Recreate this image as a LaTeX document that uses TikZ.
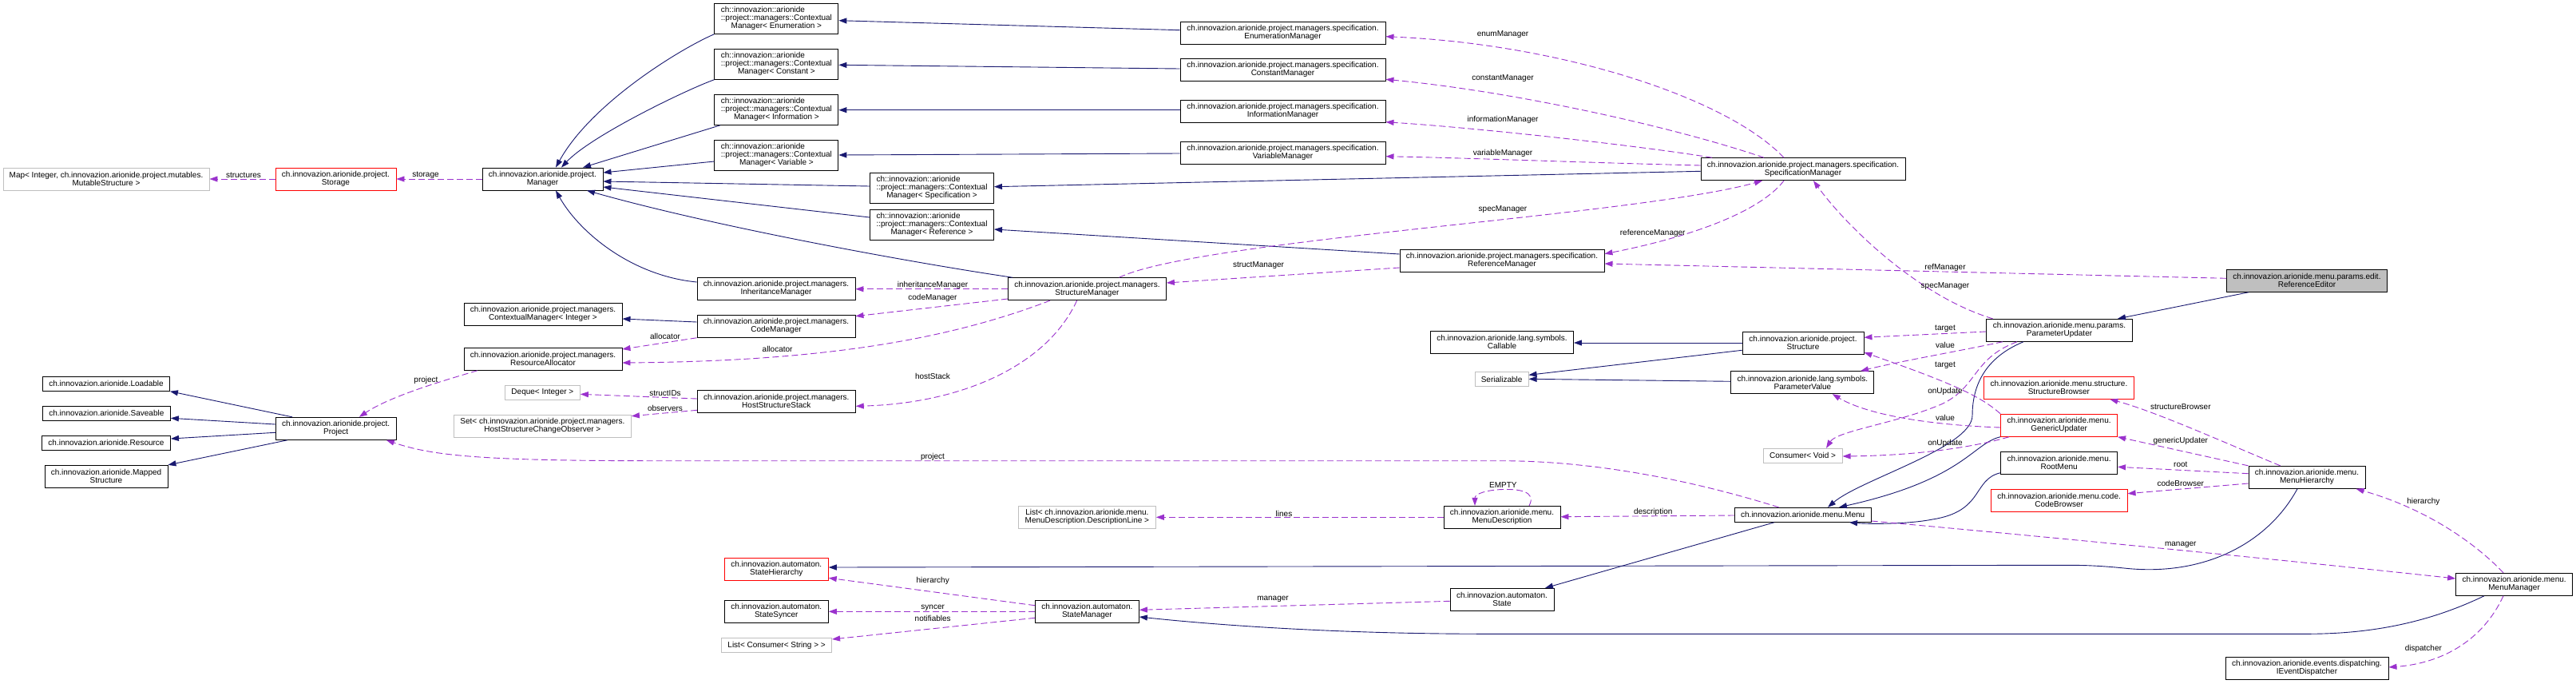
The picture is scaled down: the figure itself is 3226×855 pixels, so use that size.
\documentclass[tikz,border=0pt]{standalone}
\usepackage{fontspec}
\setmainfont{Liberation Sans}
\usetikzlibrary{arrows.meta}
\definecolor{navy}{HTML}{191970}
\definecolor{orchid}{HTML}{9A32CD}
\definecolor{gborder}{HTML}{BFBFBF}
\newcommand\cmtxt[1]{\rlap{ch::innovazion::arionide}\phantom{::project::managers::Contextual}\\::project::managers::Contextual\\Manager< #1 >}
\tikzset{
  cls/.style={draw=black, line width=0.9pt, fill=white, inner sep=0pt, align=center, font=\fontsize{10}{10}\selectfont, text=black},
  ext/.style={cls, draw=gborder},
  redcls/.style={cls, draw=red},
  hl/.style={cls, fill=gborder},
  bw/.style={minimum width=#1pt},
  hone/.style={minimum height=18pt},
  htwo/.style={minimum height=28pt},
  hthree/.style={minimum height=38pt},
  inh/.style={draw=navy, line width=0.9pt, -{Triangle[length=10pt,width=7pt]}},
  use/.style={draw=orchid, line width=0.9pt, dash pattern=on 8pt off 4pt, -{Triangle[length=10pt,width=7pt]}},
  lbl/.style={font=\fontsize{10}{10}\selectfont, inner sep=0pt, text=black}
}
\begin{document}
\begin{tikzpicture}[x=1pt,y=-1pt]
\fill[white] (0,0) rectangle (3226,855);
\useasboundingbox (0,0) rectangle (3226,855);

% ---------- nodes ----------
\node[ext,bw=258,htwo] (map) at (133,224) {Map< Integer, ch.innovazion.arionide.project.mutables.\\MutableStructure >};
\node[redcls,bw=151,htwo] (storage) at (420.5,224) {ch.innovazion.arionide.project.\\Storage};
\node[cls,bw=151,htwo] (manager) at (679.5,224) {ch.innovazion.arionide.project.\\Manager};
\node[cls,bw=198,htwo] (cmint) at (680,393) {ch.innovazion.arionide.project.managers.\\ContextualManager< Integer >};
\node[cls,bw=198,htwo] (resalloc) at (680,449.3) {ch.innovazion.arionide.project.managers.\\ResourceAllocator};
\node[ext,bw=94,hone] (deque) at (679.4,491.3) {Deque< Integer >};
\node[ext,bw=222,htwo] (setobs) at (679.4,533.3) {Set< ch.innovazion.arionide.project.managers.\\HostStructureChangeObserver >};
\node[cls,bw=159,hone] (loadable) at (133,480.3) {ch.innovazion.arionide.Loadable};
\node[cls,bw=160,hone] (saveable) at (133.4,517.3) {ch.innovazion.arionide.Saveable};
\node[cls,bw=161,hone] (resource) at (133,554.3) {ch.innovazion.arionide.Resource};
\node[cls,bw=154,htwo] (mapped) at (133,596.3) {ch.innovazion.arionide.Mapped\\Structure};
\node[cls,bw=151,htwo] (project) at (420.7,536.3) {ch.innovazion.arionide.project.\\Project};

\node[cls,bw=155,hthree] (cmenum) at (972.4,23.3) {\cmtxt{Enumeration}};
\node[cls,bw=155,hthree] (cmconst) at (972.4,80.3) {\cmtxt{Constant}};
\node[cls,bw=155,hthree] (cminfo) at (972.4,137.3) {\cmtxt{Information}};
\node[cls,bw=155,hthree] (cmvar) at (972.4,194.3) {\cmtxt{Variable}};
\node[cls,bw=155,hthree] (cmspec) at (1167,235.3) {\cmtxt{Specification}};
\node[cls,bw=155,hthree] (cmref) at (1167,281.3) {\cmtxt{Reference}};

\node[cls,bw=257,htwo] (enummgr) at (1606.5,41.3) {ch.innovazion.arionide.project.managers.specification.\\EnumerationManager};
\node[cls,bw=257,htwo] (constmgr) at (1606.5,87.3) {ch.innovazion.arionide.project.managers.specification.\\ConstantManager};
\node[cls,bw=257,htwo] (infomgr) at (1606.5,139.3) {ch.innovazion.arionide.project.managers.specification.\\InformationManager};
\node[cls,bw=257,htwo] (varmgr) at (1606.5,191.3) {ch.innovazion.arionide.project.managers.specification.\\VariableManager};
\node[cls,bw=256,htwo] (specmgr) at (2258,211.7) {ch.innovazion.arionide.project.managers.specification.\\SpecificationManager};
\node[cls,bw=256,htwo] (refmgr) at (1881,326.3) {ch.innovazion.arionide.project.managers.specification.\\ReferenceManager};

\node[cls,bw=198,htwo] (inhmgr) at (972,361.3) {ch.innovazion.arionide.project.managers.\\InheritanceManager};
\node[cls,bw=198,htwo] (codemgr) at (972,408.3) {ch.innovazion.arionide.project.managers.\\CodeManager};
\node[cls,bw=198,htwo] (structmgr) at (1361.4,361.7) {ch.innovazion.arionide.project.managers.\\StructureManager};
\node[cls,bw=198,htwo] (hss) at (972.3,502.3) {ch.innovazion.arionide.project.managers.\\HostStructureStack};

\node[ext,bw=172,htwo] (listdesc) at (1361.4,647.3) {List< ch.innovazion.arionide.menu.\\MenuDescription.DescriptionLine >};
\node[redcls,bw=130,htwo] (statehier) at (972.3,712.3) {ch.innovazion.automaton.\\StateHierarchy};
\node[cls,bw=130,htwo] (statesync) at (972.3,765.3) {ch.innovazion.automaton.\\StateSyncer};
\node[ext,bw=138,hone] (listcons) at (972.6,807.7) {List< Consumer< String > >};
\node[cls,bw=130,htwo] (statemgr) at (1361.4,765.3) {ch.innovazion.automaton.\\StateManager};

\node[cls,bw=179,htwo] (callable) at (1881,428.3) {ch.innovazion.arionide.lang.symbols.\\Callable};
\node[cls,bw=152,htwo] (structure) at (2258,429.3) {ch.innovazion.arionide.project.\\Structure};
\node[ext,bw=67,hone] (serializable) at (1880.6,474.7) {Serializable};
\node[cls,bw=179,htwo] (paramval) at (2257.4,478.7) {ch.innovazion.arionide.lang.symbols.\\ParameterValue};
\node[ext,bw=99,hone] (consvoid) at (2257.6,570.3) {Consumer< Void >};
\node[cls,bw=146,htwo] (menudesc) at (1881,647.3) {ch.innovazion.arionide.menu.\\MenuDescription};
\node[cls,bw=171,hone] (menu) at (2257.7,644.3) {ch.innovazion.arionide.menu.Menu};
\node[cls,bw=130,htwo] (state) at (1881,750.3) {ch.innovazion.automaton.\\State};

\node[hl,bw=201,htwo] (refeditor) at (2889,351.3) {ch.innovazion.arionide.menu.params.edit.\\ReferenceEditor};
\node[cls,bw=183,htwo] (paramupd) at (2579,413.3) {ch.innovazion.arionide.menu.params.\\ParameterUpdater};
\node[redcls,bw=188,htwo] (structbrowser) at (2578.4,485.3) {ch.innovazion.arionide.menu.structure.\\StructureBrowser};
\node[redcls,bw=146,htwo] (genupd) at (2578.6,532.3) {ch.innovazion.arionide.menu.\\GenericUpdater};
\node[cls,bw=146,htwo] (rootmenu) at (2578.6,579.3) {ch.innovazion.arionide.menu.\\RootMenu};
\node[redcls,bw=171,htwo] (codebrowser) at (2578.6,626.3) {ch.innovazion.arionide.menu.code.\\CodeBrowser};
\node[cls,bw=146,htwo] (menuhier) at (2889,597.3) {ch.innovazion.arionide.menu.\\MenuHierarchy};
\node[cls,bw=146,htwo] (menumgr) at (3148.6,731.3) {ch.innovazion.arionide.menu.\\MenuManager};
\node[cls,bw=204,htwo] (dispatcher) at (2889,836.3) {ch.innovazion.arionide.events.dispatching.\\IEventDispatcher};

% ---------- inheritance ----------
\draw[inh] (cmenum.south west) .. controls (850,62) and (740,130) .. (manager.north -| 696,0);
\draw[inh] (cmconst.south west) .. controls (860,112) and (740,170) .. (manager.north -| 703,0);
\draw[inh] (cminfo.south -| 902,0) -- (manager.north -| 730,0);
\draw[inh] (cmvar.west |- 0,202) -- (manager.east |- 0,216);
\draw[inh] (cmspec.west |- 0,233) -- (manager.east |- 0,227);
\draw[inh] (cmref.west |- 0,272) -- (manager.east |- 0,234);
\draw[inh] (structmgr.north -| 1268,0) .. controls (1150,330) and (900,285) .. (manager.south -| 735,0);
\draw[inh] (inhmgr.west |- 0,353) .. controls (790,345) and (725,290) .. (manager.south -| 696,0);
\draw[inh] (codemgr.west |- 0,403) -- (cmint.east |- 0,399);
\draw[inh] (enummgr.west |- 0,37.7) -- (cmenum.east |- 0,25.7);
\draw[inh] (constmgr.west |- 0,86) -- (cmconst.east |- 0,81.3);
\draw[inh] (infomgr.west |- 0,137.7) -- (cminfo.east |- 0,137.7);
\draw[inh] (varmgr.west |- 0,192) -- (cmvar.east |- 0,194);
\draw[inh] (specmgr.west |- 0,214.3) -- (cmspec.east |- 0,233.7);
\draw[inh] (refmgr.west |- 0,318) -- (cmref.east |- 0,287);
\draw[inh] (project.north -| 366,0) -- (loadable.south east);
\draw[inh] (project.west |- 0,531) -- (saveable.east |- 0,523.3);
\draw[inh] (project.west |- 0,541.3) -- (resource.east |- 0,549);
\draw[inh] (project.south -| 360,0) -- (mapped.north east);
\draw[inh] (structure.west |- 0,429) -- (callable.east |- 0,429);
\draw[inh] (structure.west |- 0,438.3) -- (serializable.east |- 0,469.3);
\draw[inh] (paramval.west |- 0,477.3) -- (serializable.east |- 0,474.3);
\draw[inh] (refeditor.south -| 2816,0) -- (paramupd.north -| 2652,0);
\draw[inh] (menu.south -| 2222,0) -- (state.north -| 1935,0);
\draw[inh] (paramupd.south -| 2534,0) .. controls (2480,450) and (2470,490) .. (2470,520) .. controls (2470,560) and (2330,600) .. (menu.north -| 2289,0);
\draw[inh] (genupd.west |- 0,546.7) .. controls (2470,555) and (2460,600) .. (menu.north -| 2303,0);
\draw[inh] (rootmenu.west |- 0,591.7) .. controls (2470,600) and (2485,640) .. (2420,650) .. controls (2390,656) and (2340,656) .. (menu.south -| 2316,0);
\draw[inh] (menuhier.south -| 2877,0) .. controls (2840,680) and (2760,722) .. (2660,711) .. controls (2620,707) and (2600,707.3) .. (2579,707.3) -- (statehier.east |- 0,710);
\draw[inh] (menumgr.south -| 3111,0) .. controls (3050,775) and (2980,793.3) .. (2890,793.3) -- (1860,793.3) .. controls (1700,793.3) and (1550,785) .. (statemgr.east |- 0,772);

% ---------- usage ----------
\draw[use] (storage.west) -- (map.east);
\draw[use] (manager.west) -- (storage.east);
\draw[use] (specmgr.north -| 2234,0) .. controls (2160,120) and (1950,55) .. (enummgr.east |- 0,45.7);
\draw[use] (specmgr.north -| 2209,0) .. controls (2100,160) and (1900,115) .. (constmgr.east |- 0,99.3);
\draw[use] (specmgr.north -| 2144,0) .. controls (2050,182) and (1850,160) .. (infomgr.east |- 0,152.7);
\draw[use] (specmgr.west |- 0,207) .. controls (2000,204) and (1850,198) .. (varmgr.east |- 0,195.7);
\draw[use] (structmgr.north -| 1401.5,0) .. controls (1500,300) and (2050,270) .. (specmgr.south -| 2207,0);
\draw[use] (specmgr.south -| 2234,0) .. controls (2200,270) and (2100,300) .. (refmgr.east |- 0,317.7);
\draw[use] (refeditor.west |- 0,348.3) -- (refmgr.east |- 0,330);
\draw[use] (paramupd.north -| 2495.6,0) .. controls (2400,370) and (2310,280) .. (specmgr.south -| 2271,0);
\draw[use] (structmgr.west |- 0,361.7) -- (inhmgr.east |- 0,361.7);
\draw[use] (structmgr.west |- 0,374) -- (codemgr.east |- 0,395.7);
\draw[use] (structmgr.south -| 1315,0) .. controls (1200,420) and (1050,452) .. (resalloc.east |- 0,454);
\draw[use] (codemgr.south west) -- (resalloc.east |- 0,437);
\draw[use] (structmgr.south -| 1348.6,0) .. controls (1310,460) and (1200,505) .. (hss.east |- 0,508.3);
\draw[use] (refmgr.west |- 0,335) -- (structmgr.east |- 0,354);
\draw[use] (hss.west |- 0,499) -- (deque.east |- 0,493.3);
\draw[use] (hss.west |- 0,513.3) -- (setobs.east |- 0,520.7);
\draw[use] (resalloc.south -| 597.8,0) .. controls (560,475) and (490,495) .. (project.north -| 449.8,0);
\draw[use] (menu.north -| 2227.6,0) .. controls (2100,595) and (1980,576.7) .. (1880,576.7) -- (820,576.7) .. controls (600,576.7) and (540,570) .. (project.south -| 483.8,0);
\draw[use] (menu.west |- 0,645) -- (menudesc.east |- 0,646.7);
\draw[use] (menudesc.west) -- (listdesc.east);
\draw[use] (menudesc.north -| 1915,0) .. controls (1925,614) and (1900,612) .. (1882,612.5) .. controls (1862,613) and (1847,618) .. (menudesc.north -| 1847,0);
\draw[use] (paramupd.west |- 0,415) -- (structure.east |- 0,422.3);
\draw[use] (paramupd.south -| 2508,0) .. controls (2450,440) and (2380,452) .. (paramval.north -| 2330,0);
\draw[use] (genupd.north west) .. controls (2480,495) and (2440,478) .. (structure.east |- 0,441);
\draw[use] (paramupd.south -| 2526,0) .. controls (2466,450) and (2478,490) .. (2421,510) .. controls (2370,530) and (2300,540) .. (consvoid.north -| 2287,0);
\draw[use] (genupd.west |- 0,535) .. controls (2420,532) and (2340,520) .. (paramval.south -| 2294.7,0);
\draw[use] (genupd.south -| 2516,0) .. controls (2470,560) and (2400,570) .. (consvoid.east |- 0,571);
\draw[use] (menuhier.north -| 2855.7,0) .. controls (2800,560) and (2700,515) .. (structbrowser.south -| 2642.3,0);
\draw[use] (menuhier.north west) -- (genupd.south east);
\draw[use] (menuhier.west |- 0,592.7) -- (rootmenu.east |- 0,584.3);
\draw[use] (menuhier.west |- 0,605) -- (codebrowser.east |- 0,617.7);
\draw[use] (menumgr.north -| 3135,0) .. controls (3110,690) and (3050,640) .. (menuhier.south -| 2950.5,0);
\draw[use] (menumgr.south -| 3135,0) .. controls (3110,800) and (3060,830) .. (dispatcher.east |- 0,835);
\draw[use] (menu.east |- 0,652) .. controls (2600,675) and (2900,705) .. (menumgr.west |- 0,724);
\draw[use] (statemgr.west |- 0,757.7) -- (statehier.east |- 0,723.3);
\draw[use] (statemgr.west) -- (statesync.east);
\draw[use] (statemgr.west |- 0,773.3) -- (listcons.east |- 0,800);
\draw[use] (state.west |- 0,752.3) -- (statemgr.east |- 0,763.3);

% ---------- labels ----------
\node[lbl] (l1) at (305,219) {structures};
\node[lbl] (l2) at (533,219) {storage};
\node[lbl] (l3) at (1882,42.7) {enumManager};
\node[lbl] (l4) at (1882,97.7) {constantManager};
\node[lbl] (l5) at (1882,149.7) {informationManager};
\node[lbl] (l6) at (1882,191.7) {variableManager};
\node[lbl] (l7) at (1882,261.7) {specManager};
\node[lbl] (l8) at (2069.7,291.7) {referenceManager};
\node[lbl] (l9) at (2436,335.3) {refManager};
\node[lbl] (l10) at (2436,357.7) {specManager};
\node[lbl] (l11) at (1576,332) {structManager};
\node[lbl] (l12) at (1168,356.7) {inheritanceManager};
\node[lbl] (l13) at (1168,372.7) {codeManager};
\node[lbl] (l14) at (833,420.7) {allocator};
\node[lbl] (l15) at (973.6,436.7) {allocator};
\node[lbl] (l16) at (1168,470.7) {hostStack};
\node[lbl] (l17) at (833,491.7) {structIDs};
\node[lbl] (l18) at (833,510.7) {observers};
\node[lbl] (l19) at (533.5,475.7) {project};
\node[lbl] (l20) at (1168,571.7) {project};
\node[lbl] (l21) at (1608,642.7) {lines};
\node[lbl] (l22) at (1882.4,607.5) {EMPTY};
\node[lbl] (l23) at (2070.2,640.7) {description};
\node[lbl] (l24) at (2436,411.7) {target};
\node[lbl] (l25) at (2436,431.7) {value};
\node[lbl] (l26) at (2436,457.7) {target};
\node[lbl] (l27) at (2436,490) {onUpdate};
\node[lbl] (l28) at (2436,522.7) {value};
\node[lbl] (l29) at (2436,555) {onUpdate};
\node[lbl] (l30) at (2730.8,509.3) {structureBrowser};
\node[lbl] (l31) at (2730.8,552.3) {genericUpdater};
\node[lbl] (l32) at (2730.8,581.7) {root};
\node[lbl] (l33) at (2730.8,604.7) {codeBrowser};
\node[lbl] (l34) at (3034.8,628.3) {hierarchy};
\node[lbl] (l35) at (2730.8,681.7) {manager};
\node[lbl] (l36) at (3034.8,812.3) {dispatcher};
\node[lbl] (l37) at (1168.2,726.7) {hierarchy};
\node[lbl] (l38) at (1168.2,760.7) {syncer};
\node[lbl] (l39) at (1168.2,774.3) {notifiables};
\node[lbl] (l40) at (1594,750) {manager};
\end{tikzpicture}
\end{document}
